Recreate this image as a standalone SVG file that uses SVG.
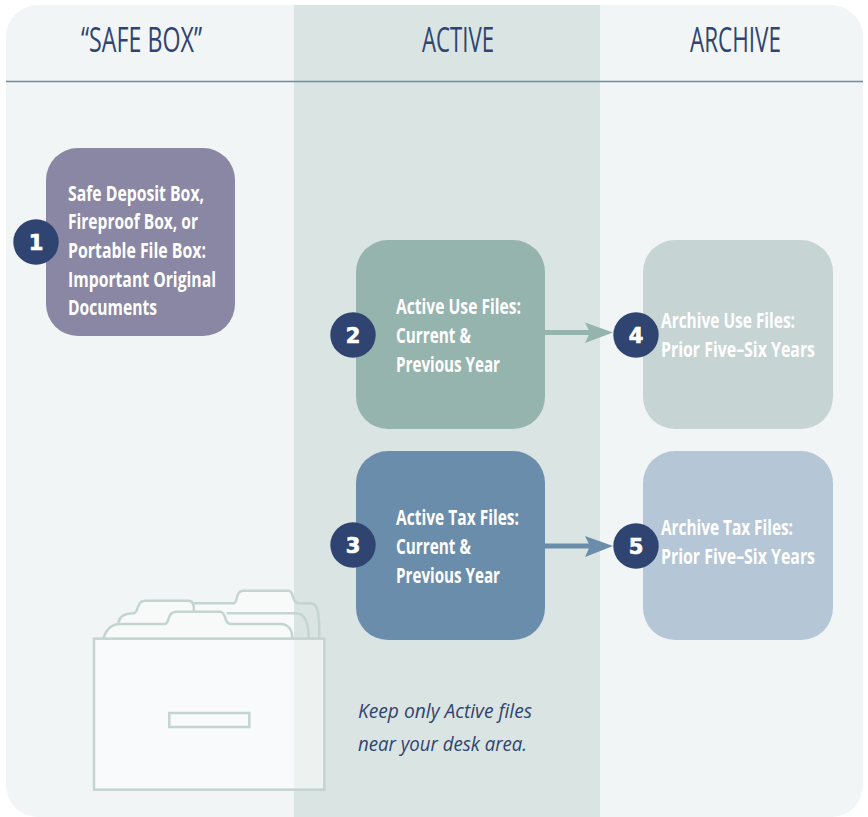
<svg xmlns="http://www.w3.org/2000/svg" width="868" height="817" viewBox="0 0 868 817">
<style>
text{font-family:"Open Sans","Noto Sans",sans-serif}
.h{font-size:34.500px;fill:#2f4470;font-weight:400}
.t{font-size:21px;fill:#fff;font-weight:700}
.n{font-family:"DejaVu Sans",sans-serif;font-size:21px;font-weight:700;fill:#fff;stroke:#fff;stroke-width:.7;text-anchor:middle}
.c{fill:#2f4470}
.i{font-size:20.500px;fill:#2f4470;font-style:italic}
.f{fill:none;stroke:#c3d4d1;stroke-width:7.500}
.tab{fill:#f8fafa;stroke:none}
.a{fill:none;stroke-width:5}
</style>
<defs>
<clipPath id="leftOfBand"><rect x="0" y="0" width="672" height="240"/></clipPath>
</defs>
<g id="background">
<rect x="6" y="5" width="857" height="812" rx="32" fill="#f1f5f6"/>
<rect x="294" y="5" width="306" height="812" fill="#dae4e3"/>
<path d="M6 81.500H863" stroke="#6a8ca8" stroke-width="1.500" fill="none"/>
<text class="h" x="81" y="51.500" textLength="121" lengthAdjust="spacingAndGlyphs">“SAFE BOX”</text>
<text class="h" x="422" y="51.500" textLength="72" lengthAdjust="spacingAndGlyphs">ACTIVE</text>
<text class="h" x="690" y="51.500" textLength="91" lengthAdjust="spacingAndGlyphs">ARCHIVE</text>
</g>
<g id="cabinet" transform="translate(70 570) scale(.3333)">
<g clip-path="url(#leftOfBand)">
<path class="tab" d="M372 100H490C505 100 495 62 520 62H655C675 62 660 100 690 100H720C745 100 748 125 748 205H372Z"/>
<path class="tab" d="M145 158C150 135 170 130 190 130C208 128 198 92 225 92H355C372 92 372 110 372 130H680C705 132 716 155 716 205H145Z"/>
<path class="tab" d="M100 205C110 175 125 162 150 162H285C300 160 290 125 320 125H450C472 125 458 162 485 162H635C655 164 667 180 667 205Z"/>
</g>
<path class="f" d="M372 100H490C505 100 495 62 520 62H655C675 62 660 100 690 100H720C745 100 748 125 748 205"/>
<path class="f" d="M145 158C150 135 170 130 190 130C208 128 198 92 225 92H355C372 92 372 110 372 125M470 130H680C705 132 716 155 716 205"/>
<path class="f" d="M100 205C110 175 125 162 150 162H285C300 160 290 125 320 125H450C472 125 458 162 485 162H635C655 164 667 180 667 205"/>
<rect x="72" y="206" width="691" height="453" fill="#fff" fill-opacity=".5" stroke="#c3d4d1" stroke-width="7.500"/>
<rect x="298" y="429" width="240" height="42" fill="none" stroke="#c3d4d1" stroke-width="7.500"/>
</g>
<g id="connectors">
<path class="a" stroke="#96b4ae" d="M545 332.500H595"/>
<path fill="#96b4ae" d="M585 322.500L613 332.500L585 343L590 332.500Z"/>
<path class="a" stroke="#6b8dac" d="M545 546H595"/>
<path fill="#6b8dac" d="M585 536L613 546L585 557L590 546Z"/>
</g>
<g id="node1">
<rect x="46" y="148" width="189" height="188" rx="32" fill="#8a87a4"/>
<text class="t" x="68" y="201" textLength="136" lengthAdjust="spacingAndGlyphs">Safe Deposit Box,</text>
<text class="t" x="68" y="229" textLength="130" lengthAdjust="spacingAndGlyphs">Fireproof Box, or</text>
<text class="t" x="68" y="258" textLength="138" lengthAdjust="spacingAndGlyphs">Portable File Box:</text>
<text class="t" x="68" y="287" textLength="148" lengthAdjust="spacingAndGlyphs">Important Original</text>
<text class="t" x="68" y="315" textLength="89" lengthAdjust="spacingAndGlyphs">Documents</text>
<circle class="c" cx="36" cy="242" r="22.700"/>
<text class="n" x="36" y="249.500">1</text>
</g>
<g id="node2">
<rect x="356" y="240" width="189" height="189" rx="32" fill="#96b4ae"/>
<text class="t" x="396" y="314" textLength="125" lengthAdjust="spacingAndGlyphs">Active Use Files:</text>
<text class="t" x="396" y="343" textLength="75" lengthAdjust="spacingAndGlyphs">Current &amp;</text>
<text class="t" x="396" y="372" textLength="104" lengthAdjust="spacingAndGlyphs">Previous Year</text>
<circle class="c" cx="353" cy="335" r="22.700"/>
<text class="n" x="353" y="342.500">2</text>
</g>
<g id="node3">
<rect x="356" y="451" width="189" height="189" rx="32" fill="#6b8dac"/>
<text class="t" x="396" y="525" textLength="123" lengthAdjust="spacingAndGlyphs">Active Tax Files:</text>
<text class="t" x="396" y="554" textLength="75" lengthAdjust="spacingAndGlyphs">Current &amp;</text>
<text class="t" x="396" y="583" textLength="104" lengthAdjust="spacingAndGlyphs">Previous Year</text>
<circle class="c" cx="353" cy="545" r="22.700"/>
<text class="n" x="353" y="552.500">3</text>
</g>
<g id="node4">
<rect x="643" y="240" width="190" height="189" rx="32" fill="#c6d5d3"/>
<text class="t" x="661" y="328" textLength="134" lengthAdjust="spacingAndGlyphs">Archive Use Files:</text>
<text class="t" x="661" y="357" textLength="154" lengthAdjust="spacingAndGlyphs">Prior Five–Six Years</text>
<circle class="c" cx="636" cy="335" r="22.700"/>
<text class="n" x="636" y="342.500">4</text>
</g>
<g id="node5">
<rect x="643" y="451" width="190" height="189" rx="32" fill="#b5c7d6"/>
<text class="t" x="661" y="535" textLength="132" lengthAdjust="spacingAndGlyphs">Archive Tax Files:</text>
<text class="t" x="661" y="564" textLength="154" lengthAdjust="spacingAndGlyphs">Prior Five–Six Years</text>
<circle class="c" cx="636" cy="546" r="22.700"/>
<text class="n" x="636" y="553.500">5</text>
</g>
<g id="note">
<text class="i" x="358" y="718" textLength="174" lengthAdjust="spacingAndGlyphs">Keep only Active files</text>
<text class="i" x="358" y="751" textLength="169" lengthAdjust="spacingAndGlyphs">near your desk area.</text>
</g>
</svg>
